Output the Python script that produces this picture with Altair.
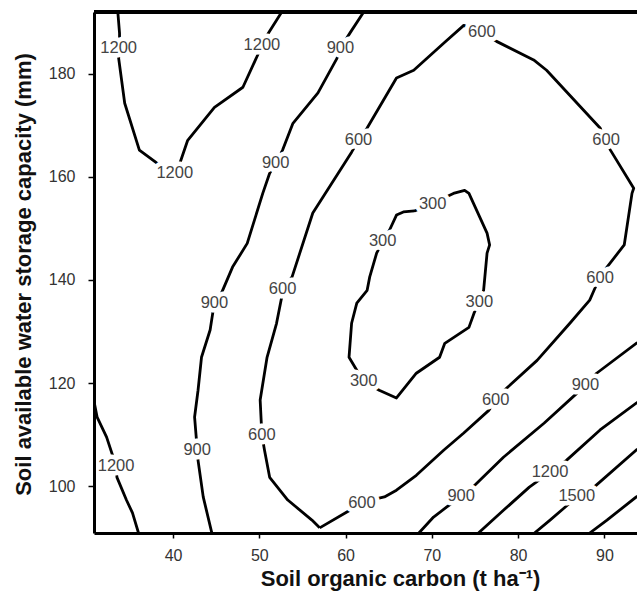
import altair as alt
import pandas as pd

# ---- contour lines (x = soil organic carbon, y = available water capacity) ----
C300_X = [68.0, 70.1, 72.5, 73.8, 74.3, 76.4, 76.7, 76.4, 76.0, 75.5, 74.9, 74.3, 71.5, 70.9,
          68.2, 65.9, 63.9, 62.1, 61.3, 60.4, 60.7, 61.3, 62.5, 62.8, 63.6, 64.3, 65.1, 65.9, 66.7, 68.0]
C300_Y = [153.4, 154.9, 156.8, 157.4, 156.8, 149.1, 146.8, 145.2, 138.0, 135.7, 133.6, 130.8, 127.7, 125.0,
          121.9, 117.1, 118.6, 120.4, 122.5, 125.0, 131.6, 135.5, 138.0, 140.6, 145.2, 147.5, 149.7, 152.6, 153.2, 153.4]

C600_X = [57.0, 56.1, 53.3, 51.2, 50.6, 50.3, 50.1, 50.9, 52.0, 52.6, 52.7, 53.8, 56.2, 60.7, 61.5, 62.5,
          65.9, 67.9, 71.4, 73.7, 75.8, 77.5, 81.8, 83.3, 89.5, 90.2, 90.7, 93.4, 93.2, 92.3, 90.3, 89.5,
          88.8, 88.3, 86.0, 82.2, 78.4, 77.4, 76.6, 73.7, 71.4, 68.2, 65.9, 64.5, 61.9, 60.5, 57.0]
C600_Y = [91.9, 93.4, 97.3, 101.7, 107.0, 109.9, 116.7, 125.0, 131.6, 136.7, 138.2, 140.6, 153.0, 164.8, 167.1, 169.5,
          179.2, 180.7, 186.0, 189.4, 188.1, 186.3, 182.7, 180.7, 169.5, 167.1, 165.2, 157.8, 156.8, 146.8, 142.5, 140.6,
          138.0, 136.1, 131.6, 124.4, 118.6, 116.7, 114.7, 110.3, 107.0, 102.1, 99.2, 97.9, 96.9, 95.3, 91.9]

C900L_X = [62.1, 60.5, 59.4, 59.0, 56.8, 53.9, 52.7, 51.9, 51.2, 50.4, 48.6, 46.9, 45.6, 44.8,
           44.3, 43.3, 42.9, 42.5, 42.8, 42.9, 43.5, 44.5]
C900L_Y = [192.0, 187.9, 185.0, 183.0, 176.3, 170.4, 165.2, 162.7, 160.7, 156.8, 147.1, 142.5, 137.4, 135.7,
           130.3, 125.0, 118.6, 113.4, 107.2, 105.0, 97.9, 90.9]

C900R_X = [68.5, 70.2, 71.7, 73.5, 75.0, 78.3, 83.0, 86.8, 87.8, 89.1, 93.7, 94.2]
C900R_Y = [90.9, 94.0, 95.9, 98.1, 100.2, 105.6, 112.2, 118.0, 119.6, 121.9, 127.7, 128.1]

C1200TL_X = [33.6, 33.8, 33.8, 33.7, 34.4, 36.1, 38.1, 39.6, 40.8, 41.7, 44.8, 48.1, 49.8, 50.3, 50.9, 52.6]
C1200TL_Y = [192.0, 187.9, 185.0, 183.0, 174.3, 165.2, 162.7, 161.3, 162.7, 167.1, 173.5, 177.4, 183.6, 185.6, 187.5, 192.0]

C1200BL_X = [30.8, 31.2, 32.3, 33.4, 33.5, 34.6, 35.3, 36.0]
C1200BL_Y = [116.8, 113.4, 109.5, 103.9, 101.7, 97.3, 94.8, 90.9]

C1200BR_X = [75.4, 78.3, 81.3, 83.7, 85.6, 89.5, 93.7, 94.1]
C1200BR_Y = [90.9, 95.3, 99.8, 102.7, 105.0, 110.9, 116.1, 116.5]

C1500_X = [81.9, 83.7, 85.3, 86.8, 88.8, 93.7, 94.1]
C1500_Y = [90.9, 93.4, 95.7, 97.9, 99.8, 107.0, 107.4]

C1800_X = [88.3, 90.3, 93.7, 94.1]
C1800_Y = [90.9, 93.4, 97.9, 98.3]

# ---- contour labels ----
LABEL_X = [33.7, 40.2, 50.3,
           59.4, 51.9, 44.8, 42.8,
           75.8, 61.5, 52.7, 50.3, 61.9, 77.4, 89.5, 90.2,
           70.1, 64.3, 75.5, 62.1,
           33.4,
           73.4, 87.8,
           83.7,
           86.8]
LABEL_Y = [185.0, 160.7, 185.6,
           185.0, 162.7, 135.6, 107.1,
           188.1, 167.1, 138.2, 109.9, 96.8, 116.7, 140.4, 167.1,
           154.8, 147.5, 135.7, 120.4,
           103.9,
           98.1, 119.7,
           102.8,
           98.0]
LABEL_TEXT = ["1200", "1200", "1200",
              "900", "900", "900", "900",
              "600", "600", "600", "600", "600", "600", "600", "600",
              "300", "300", "300", "300",
              "1200",
              "900", "900",
              "1200",
              "1500"]

X_TICKS = [40, 50, 60, 70, 80, 90]
Y_TICKS = [100, 120, 140, 160, 180]
X_DOMAIN = [30.84, 93.78]
Y_DOMAIN = [90.9, 192.0]

contours = [
    ("c300", C300_X, C300_Y), ("c600", C600_X, C600_Y),
    ("c900L", C900L_X, C900L_Y), ("c900R", C900R_X, C900R_Y),
    ("c1200TL", C1200TL_X, C1200TL_Y), ("c1200BL", C1200BL_X, C1200BL_Y),
    ("c1200BR", C1200BR_X, C1200BR_Y), ("c1500", C1500_X, C1500_Y),
    ("c1800", C1800_X, C1800_Y),
]
rows = []
for name, xs, ys in contours:
    for i, (xv, yv) in enumerate(zip(xs, ys)):
        rows.append({"id": name, "i": i, "x": xv, "y": yv})
lines_df = pd.DataFrame(rows)
labels_df = pd.DataFrame({"x": LABEL_X, "y": LABEL_Y, "t": LABEL_TEXT})

FONT = "Liberation Sans"
W, H = 543, 521

xenc = alt.X("x:Q", scale=alt.Scale(domain=X_DOMAIN, nice=False, zero=False),
             axis=alt.Axis(values=X_TICKS, title="Soil organic carbon (t ha⁻¹)", grid=False,
                           zindex=1,
                           domainColor="black", domainWidth=3, tickColor="black", tickWidth=1.5,
                           tickSize=5, labelPadding=9, labelFont=FONT, labelFontSize=16,
                           labelColor="#333333", titleFont=FONT, titleFontSize=22,
                           titleFontWeight="bold", titleColor="#111111", titleX=306, titleY=52,
                           titleBaseline="alphabetic"))
yenc = alt.Y("y:Q", scale=alt.Scale(domain=Y_DOMAIN, nice=False, zero=False),
             axis=alt.Axis(values=Y_TICKS, title="Soil available water storage capacity (mm)",
                           grid=False, zindex=1, domainColor="black", domainWidth=3,
                           tickColor="black",
                           tickWidth=1.5, tickSize=6, labelPadding=13, labelFont=FONT,
                           labelFontSize=16, labelColor="#333333", titleFont=FONT,
                           titleFontSize=22, titleFontWeight="bold", titleColor="#111111",
                           titleAngle=270, titleX=-64, titleY=262, titleBaseline="alphabetic"))

lines = alt.Chart(lines_df).mark_line(color="black", strokeWidth=2.8, clip=True,
                                      strokeJoin="round").encode(
    x=xenc, y=yenc, detail="id:N", order="i:Q")

halo = alt.Chart(labels_df).mark_text(font=FONT, fontSize=16.5, color="white", stroke="white",
                                      strokeWidth=9, strokeJoin="round").encode(
    x="x:Q", y="y:Q", text="t:N")
text = alt.Chart(labels_df).mark_text(font=FONT, fontSize=16.5, color="#444444").encode(
    x="x:Q", y="y:Q", text="t:N")

top_border = alt.Chart(labels_df).mark_rule(color="black", strokeWidth=3).encode(
    x=alt.value(0), x2=alt.value(W), y=alt.value(0))

chart = alt.layer(lines, halo, text, top_border).properties(
    width=W, height=H,
    autosize=alt.AutoSizeParams(type="none"),
    padding={"left": 94, "top": 12, "right": 0, "bottom": 58},
).configure_view(stroke=None).configure(background="white")

chart.save("out.html", embed_options={"renderer": "svg", "actions": False})
